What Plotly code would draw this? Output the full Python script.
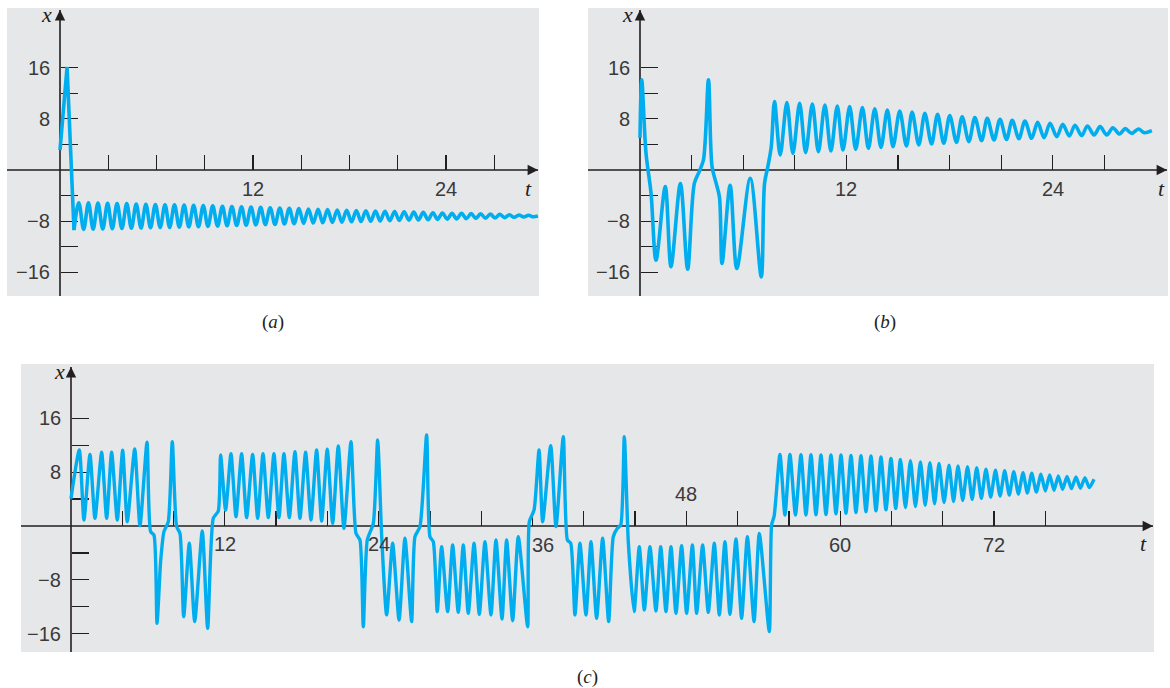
import plotly.graph_objects as go

W, H = 1170, 688

# ---------------- panel (a) data ----------------
a_start_t = [0.0, 0.44, 0.87]
a_start_x = [3.1, 16.1, -9.4]
a_crest_t = [1.17, 1.77, 2.36, 2.96, 3.55, 4.15, 4.74, 5.34, 5.93, 6.53, 7.12, 7.72,
             8.31, 8.91, 9.50, 10.10, 10.69, 11.29, 11.88, 12.48, 13.07, 13.67, 14.26, 14.86,
             15.45, 16.05, 16.64, 17.24, 17.83, 18.43, 19.02, 19.62, 20.21, 20.81, 21.40, 22.00,
             22.59, 23.19, 23.78, 24.38, 24.97, 25.57, 26.16, 26.76, 27.35, 27.95, 28.54, 29.14]
a_crest_x = [-5.11, -5.14, -5.17, -5.2, -5.23, -5.26, -5.31, -5.35, -5.39, -5.42, -5.45, -5.48,
             -5.52, -5.57, -5.61, -5.66, -5.7, -5.75, -5.79, -5.84, -5.89, -5.94, -5.99, -6.04,
             -6.09, -6.14, -6.19, -6.24, -6.29, -6.33, -6.37, -6.41, -6.45, -6.49, -6.53, -6.58,
             -6.62, -6.67, -6.71, -6.75, -6.78, -6.82, -6.86, -6.9, -6.94, -6.99, -7.04, -7.08]
a_trough_t = [1.47, 2.06, 2.66, 3.25, 3.85, 4.44, 5.04, 5.63, 6.23, 6.82, 7.42, 8.01,
              8.61, 9.20, 9.80, 10.39, 10.99, 11.58, 12.18, 12.77, 13.37, 13.96, 14.56, 15.15,
              15.75, 16.34, 16.94, 17.53, 18.13, 18.72, 19.32, 19.91, 20.51, 21.10, 21.70, 22.29,
              22.89, 23.48, 24.08, 24.67, 25.27, 25.86, 26.46, 27.05, 27.65, 28.24, 28.84, 29.43]
a_trough_x = [-9.28, -9.25, -9.21, -9.18, -9.15, -9.11, -9.07, -9.03, -9.0, -8.97, -8.93, -8.9,
              -8.86, -8.81, -8.77, -8.72, -8.68, -8.63, -8.58, -8.54, -8.49, -8.44, -8.39, -8.34,
              -8.29, -8.24, -8.19, -8.14, -8.09, -8.05, -8.01, -7.97, -7.93, -7.89, -7.84, -7.8,
              -7.76, -7.71, -7.67, -7.64, -7.6, -7.56, -7.52, -7.48, -7.44, -7.39, -7.34, -7.31]
a_end_t = [29.72]
a_end_x = [-7.2]

# ---------------- panel (b) data ----------------
b_start_t = [0.0, 0.1, 0.35, 0.64, 0.93, 1.47, 1.80, 2.35, 2.77, 3.16, 3.45, 3.69,
             3.98, 4.19, 4.43, 4.62, 4.77, 5.24, 5.63, 6.41, 7.05, 7.24, 7.43, 7.63]
b_start_x = [5.0, 14.1, 2.6, -3.6, -14.1, -2.6, -15.1, -2.1, -15.5, -2.1, -0.2, 1.6,
             14.1, 0.5, -2.1, -4.2, -14.6, -2.4, -15.4, -1.3, -16.7, -2.1, 0.5, 3.6]
b_crest_t = [7.82, 8.54, 9.28, 10.02, 10.75, 11.47, 12.19, 12.93, 13.65, 14.38, 15.10, 15.82,
             16.56, 17.30, 18.01, 18.73, 19.47, 20.19, 20.93, 21.64, 22.38, 23.12, 23.84, 24.58,
             25.29, 26.01, 26.75, 27.49, 28.21, 28.98]
b_crest_x = [10.68, 10.52, 10.42, 10.31, 10.16, 10.0, 9.9, 9.74, 9.58, 9.38, 9.22, 9.06,
             8.85, 8.70, 8.49, 8.33, 8.18, 8.07, 7.92, 7.76, 7.66, 7.45, 7.29, 7.14,
             6.98, 6.88, 6.77, 6.61, 6.46, 6.41]
b_trough_t = [8.15, 8.89, 9.63, 10.37, 11.10, 11.80, 12.54, 13.28, 14.01, 14.71, 15.49, 16.21,
              16.95, 17.66, 18.40, 19.12, 19.86, 20.58, 21.31, 22.03, 22.77, 23.49, 24.23, 24.96,
              25.68, 26.40, 27.14, 27.88, 28.59, 29.31]
b_trough_x = [2.34, 2.60, 2.71, 2.86, 2.97, 3.13, 3.23, 3.39, 3.54, 3.65, 3.75, 3.91,
              4.06, 4.17, 4.32, 4.43, 4.58, 4.69, 4.79, 4.90, 4.95, 5.05, 5.21, 5.31,
              5.36, 5.47, 5.47, 5.62, 5.73, 5.83]
b_end_t = [29.76]
b_end_x = [6.15]

# ---------------- panel (c) data ----------------
c_t = [0.0, 0.65, 1.01, 1.48, 1.87, 2.39, 2.78, 3.17, 3.61, 4.03, 4.39, 4.97, 5.38, 5.93,
       6.21, 6.47, 6.71, 6.99, 7.25, 7.59, 7.9, 8.24, 8.5, 8.79, 9.23, 9.65, 10.24, 10.66, 11.1, 11.49,
       11.67, 12.06, 12.48, 12.87, 13.31, 13.7, 14.17, 14.56, 14.98, 15.39, 15.83, 16.22,
       16.61, 17.03, 17.47, 17.86, 18.3, 18.72, 19.16, 19.55, 19.99, 20.41, 20.85, 21.29,
       21.84, 22.23, 22.54, 22.8, 23.11, 23.58, 23.92, 24.23,
       24.62, 25.09, 25.59, 26.05, 26.57, 26.83, 27.22, 27.74, 28.0, 28.26, 28.57,
       28.91, 29.38, 29.77, 30.21, 30.6, 30.99, 31.44, 31.85, 32.29, 32.76, 33.15, 33.62,
       33.98, 34.45, 34.89, 35.62,
       35.75, 36.12, 36.51, 36.79, 37.42, 37.83, 38.4,
       38.72, 38.98, 39.31, 39.7, 40.17, 40.56, 41.0, 41.47, 41.94, 42.3, 42.62, 42.88, 43.16, 43.47,
       43.92, 44.33, 44.72, 45.16, 45.63, 46.0, 46.41, 46.8, 47.19, 47.63, 48.02, 48.47, 48.8,
       49.27, 49.71, 50.18, 50.57, 51.01, 51.4, 51.87, 52.31, 52.76, 53.28, 53.69, 54.47, 54.65, 54.85]
c_x = [4.1, 11.3, 0.9, 10.65, 1.14, 10.95, 1.14, 10.95, 0.9, 11.25, 0.64, 11.45, 0.05, 12.45,
       -0.84, -1.34, -14.46, -5.3, -0.84, 0.64, 12.53, -0.1, -1.09, -13.47, -2.57, -14.2, -0.74, -15.2, 1.14, 2.23,
       10.55, 2.38, 10.75, 1.39, 10.75, 1.24, 10.65, 1.14, 10.75, 1.24, 10.75, 1.24,
       10.75, 1.24, 11.05, 1.14, 10.95, 0.89, 11.3, 0.74, 11.4, 0.4, 11.9, -0.35,
       12.53, -1.09, -2.08, -14.96, -2.08, 0.4, 12.78, -1.34,
       -13.2, -2.57, -13.97, -1.83, -14.2, -1.59, -0.1, 13.52, -1.59, -2.33, -12.73,
       -3.07, -12.73, -2.82, -12.83, -2.82, -12.98, -2.57, -13.12, -2.33, -13.22, -2.08, -13.82,
       -2.08, -14.07, -1.59, -14.96,
       0.64, 2.38, 11.29, 0.64, 11.94, -0.1, 13.27,
       -2.08, -2.57, -13.22, -2.57, -13.22, -2.33, -13.72, -1.83, -14.2, -1.59, -0.35, 0.15, 13.27, -2.33,
       -12.73, -3.07, -12.48, -3.07, -12.63, -3.07, -12.73, -3.07, -12.98, -2.92, -12.98, -2.82, -12.98,
       -2.82, -12.83, -2.57, -13.22, -2.33, -13.12, -1.93, -13.72, -1.59, -14.2, -1.09, -15.7, 0.15, 1.5]
c_crest_t = [55.30, 56.08, 56.94, 57.72, 58.50, 59.28, 60.06, 60.84, 61.62, 62.40, 63.18, 63.96,
             64.70, 65.48, 66.26, 67.00, 67.71, 68.49, 69.19, 69.93, 70.65, 71.37, 72.11, 72.83,
             73.54, 74.26, 74.94, 75.66, 76.34, 77.01, 77.69, 78.39, 79.09, 79.80]
c_crest_x = [10.65, 10.65, 10.6, 10.6, 10.55, 10.55, 10.55, 10.5, 10.45, 10.4, 10.25, 10.05,
             9.9, 9.7, 9.5, 9.4, 9.3, 9.05, 8.92, 8.82, 8.67, 8.45, 8.28, 8.2,
             8.07, 7.92, 7.83, 7.68, 7.58, 7.45, 7.35, 7.3, 7.18, 6.95]
c_trough_t = [55.69, 56.51, 57.33, 58.11, 58.89, 59.67, 60.45, 61.23, 62.01, 62.79, 63.57, 64.33,
              65.09, 65.87, 66.63, 67.36, 68.10, 68.84, 69.56, 70.29, 71.01, 71.74, 72.47, 73.19,
              73.90, 74.60, 75.30, 76.00, 76.68, 77.35, 78.04, 78.74, 79.43]
c_trough_x = [1.63, 1.63, 1.63, 1.65, 1.7, 1.8, 1.9, 2.0, 2.13, 2.25, 2.4, 2.6,
              2.75, 2.9, 3.1, 3.3, 3.5, 3.65, 3.8, 3.95, 4.1, 4.3, 4.45, 4.6,
              4.75, 4.9, 5.05, 5.2, 5.3, 5.45, 5.55, 5.6, 5.7]

# tick values / labels
ab_t_ticks = [3, 6, 9, 12, 15, 18, 21, 24, 27]
c_t_ticks = list(range(4, 80, 4))
x_ticks = [-16, -12, -8, -4, 4, 8, 12, 16]
x_labels = [16, 8, -8, -16]


def merge(*pairs):
    pts = []
    for ts, xs in pairs:
        pts.extend(zip(ts, xs))
    pts.sort(key=lambda p: p[0])
    return [p[0] for p in pts], [p[1] for p in pts]


BLUE = "#00aeef"
INK = "#231f20"
TXT = "#3a3a3a"
BG = "#e6e7e8"

# panel geometry in pixels: box (x0,x1,y0,y1), t=0 pixel, px per t, x=0 pixel, px per x
geo = {
    "a": dict(box=(7, 539, 8, 296), t0=60.0, sx=16.08, z0=170.0, sy=6.4, ttip=538, xtip=10),
    "b": dict(box=(588, 1168, 8, 296), t0=640.0, sx=17.2, z0=170.0, sy=6.4, ttip=1167, xtip=10),
    "c": dict(box=(21, 1154, 364, 652), t0=71.0, sx=12.82, z0=526.0, sy=6.73, ttip=1153, xtip=367),
}
axis_ids = {"a": ("x", "y", "xaxis", "yaxis"),
            "b": ("x2", "y2", "xaxis2", "yaxis2"),
            "c": ("x3", "y3", "xaxis3", "yaxis3")}

fig = go.Figure()

# traces
ta, xa = merge((a_start_t[-1:], a_start_x[-1:]), (a_crest_t, a_crest_x),
               (a_trough_t, a_trough_x), (a_end_t, a_end_x))
fig.add_trace(go.Scatter(x=a_start_t, y=a_start_x, mode="lines", xaxis="x", yaxis="y",
                         line=dict(color=BLUE, width=3.6)))
fig.add_trace(go.Scatter(x=ta, y=xa, mode="lines", xaxis="x", yaxis="y",
                         line=dict(color=BLUE, width=3.6, shape="spline", smoothing=1.0)))

tb, xb = merge((b_start_t, b_start_x), (b_crest_t, b_crest_x),
               (b_trough_t, b_trough_x), (b_end_t, b_end_x))
fig.add_trace(go.Scatter(x=tb, y=xb, mode="lines", xaxis="x2", yaxis="y2",
                         line=dict(color=BLUE, width=3.6, shape="spline", smoothing=0.9)))

tc, xc = merge((c_t, c_x), (c_crest_t, c_crest_x), (c_trough_t, c_trough_x))
fig.add_trace(go.Scatter(x=tc, y=xc, mode="lines", xaxis="x3", yaxis="y3",
                         line=dict(color=BLUE, width=3.4, shape="spline", smoothing=0.6)))

layout = dict(width=W, height=H, margin=dict(l=0, r=0, t=0, b=0),
              paper_bgcolor="white", plot_bgcolor=BG, showlegend=False, hovermode=False)
shapes = []
annotations = []

for key, g in geo.items():
    xr, yr, xname, yname = axis_ids[key]
    bx0, bx1, by0, by1 = g["box"]
    trange = [(bx0 - g["t0"]) / g["sx"], (bx1 - g["t0"]) / g["sx"]]
    xrange_ = [(g["z0"] - by1) / g["sy"], (g["z0"] - by0) / g["sy"]]
    tticks = c_t_ticks if key == "c" else ab_t_ticks
    layout[xname] = dict(domain=[bx0 / W, bx1 / W], range=trange, anchor="free",
                         position=1 - g["z0"] / H, showgrid=False, zeroline=False,
                         showline=False, ticks="inside", tickvals=tticks, ticklen=15,
                         tickwidth=1.3, tickcolor=INK, showticklabels=False,
                         layer="below traces", fixedrange=True)
    layout[yname] = dict(domain=[1 - by1 / H, 1 - by0 / H], range=xrange_, anchor="free",
                         position=g["t0"] / W, showgrid=False, zeroline=False,
                         showline=False, ticks="inside", tickvals=x_ticks, ticklen=17,
                         tickwidth=1.3, tickcolor=INK, showticklabels=False,
                         layer="below traces", fixedrange=True)
    ttip = (g["ttip"] - g["t0"]) / g["sx"]
    xtip = (g["z0"] - g["xtip"]) / g["sy"]
    # axis lines
    shapes.append(dict(type="line", xref=xr, yref=yr, x0=trange[0], x1=ttip, y0=0, y1=0,
                       line=dict(color=INK, width=1.6), layer="below"))
    shapes.append(dict(type="line", xref=xr, yref=yr, x0=0, x1=0, y0=xrange_[0], y1=xtip,
                       line=dict(color=INK, width=1.6), layer="below"))
    # arrow heads
    annotations.append(dict(xref=xr, yref=yr, x=ttip, y=0, axref=xr, ayref=yr,
                            ax=ttip - 8 / g["sx"], ay=0, text="", showarrow=True,
                            arrowhead=2, arrowsize=1.3, arrowwidth=1.6, arrowcolor=INK))
    annotations.append(dict(xref=xr, yref=yr, x=0, y=xtip, axref=xr, ayref=yr,
                            ax=0, ay=xtip - 8 / g["sy"], text="", showarrow=True,
                            arrowhead=2, arrowsize=1.3, arrowwidth=1.6, arrowcolor=INK))
    # x tick labels
    for v in x_labels:
        annotations.append(dict(xref=xr, yref=yr, x=0, y=v, xanchor="right", xshift=-8,
                                text=str(v).replace("-", "\u2212"), showarrow=False,
                                font=dict(family="Liberation Sans", size=20, color=TXT)))

# t tick labels
for key, xr, yr in (("a", "x", "y"), ("b", "x2", "y2")):
    for v in (12, 24):
        annotations.append(dict(xref=xr, yref=yr, x=v, y=0, yshift=-19, text=str(v),
                                showarrow=False,
                                font=dict(family="Liberation Sans", size=20, color=TXT)))
c_label_shift = {12: (0, -18), 24: (0, -18), 36: (10, -19), 48: (0, 32), 60: (0, -19), 72: (0, -19)}
for v, (dx, dy) in c_label_shift.items():
    annotations.append(dict(xref="x3", yref="y3", x=v, y=0, xshift=dx, yshift=dy, text=str(v),
                            showarrow=False,
                            font=dict(family="Liberation Sans", size=20, color=TXT)))

# axis names and captions (pixel positions)
def paper_text(px, py, text, size, family="Liberation Serif"):
    annotations.append(dict(xref="paper", yref="paper", x=px / W, y=1 - py / H, text=text,
                            showarrow=False, xanchor="center", yanchor="middle",
                            font=dict(family=family, size=size, color=INK)))

paper_text(46.5, 14, "<i>x</i>", 22)
paper_text(627, 14, "<i>x</i>", 22)
paper_text(59, 371, "<i>x</i>", 22)
paper_text(528.5, 188, "<i>t</i>", 22)
paper_text(1161.5, 188, "<i>t</i>", 22)
paper_text(1143.5, 543, "<i>t</i>", 22)
paper_text(273, 322, "(<i>a</i>)", 19)
paper_text(885, 322, "(<i>b</i>)", 19)
paper_text(587, 677, "(<i>c</i>)", 19)

layout["shapes"] = shapes
layout["annotations"] = annotations
fig.update_layout(**layout)
fig.write_html("out.html", config={"displayModeBar": False, "staticPlot": True},
               post_script="document.body.style.margin='0';document.body.style.overflow='hidden';")
